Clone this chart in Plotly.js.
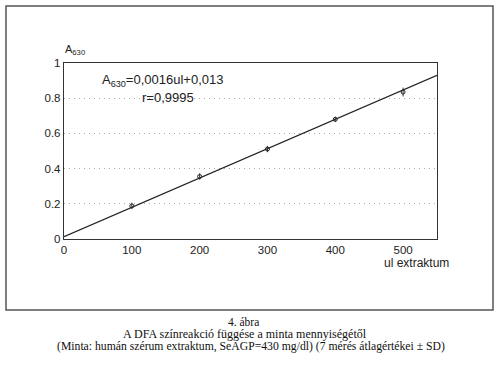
<!DOCTYPE html>
<html><head><meta charset="utf-8">
<script src="https://cdn.plot.ly/plotly-3.0.1.min.js"></script>
<style>html,body{margin:0;padding:0;background:#fff;}#c{width:500px;height:369px;}</style>
</head><body><div id="c"></div>
<script>
const volumes = [100, 200, 300, 400, 500];
const absorbance = [0.188, 0.355, 0.511, 0.68, 0.835];
const sd = [0.018, 0.018, 0.018, 0.015, 0.025];
const fitX = [0, 550];
const fitY = [0.013, 0.93];
const xTicks = [0, 100, 200, 300, 400, 500];
const yTicks = [0, 0.2, 0.4, 0.6, 0.8, 1];
const yTickText = ['0', '0.2', '0.4', '0.6', '0.8', '1'];

const W = 373, H = 176; // plot area px
function px(x){return (x-64)/W;}
function py(y){return (239-y)/H;}
const serif = 'Liberation Serif, Times New Roman, serif';

const traces = [
  {x: fitX, y: fitY, mode: 'lines', line: {color: '#222', width: 1.2}, hoverinfo: 'skip'},
  {x: volumes, y: absorbance, mode: 'markers',
   marker: {symbol: 'circle-open', size: 4, color: '#222', line: {width: 1}},
   error_y: {type: 'data', array: sd, visible: true, color: '#333', thickness: 1, width: 0}}
];

const layout = {
  width: 500, height: 369,
  margin: {l: 64, r: 63, t: 63, b: 130},
  paper_bgcolor: '#fff', plot_bgcolor: '#fff',
  showlegend: false,
  font: {family: 'Liberation Sans, Arial, sans-serif', size: 11, color: '#222'},
  xaxis: {range: [0, 550], tickvals: xTicks, ticktext: xTicks.map(String), showgrid: false, zeroline: false,
    showline: true, linecolor: '#333', linewidth: 1.2, mirror: true, ticks: '', ticklen: 0,
    tickfont: {size: 11.5}},
  yaxis: {range: [0, 1], tickvals: yTicks, ticktext: yTickText, showgrid: true, gridcolor: '#aaa', griddash: '1px,4px', gridwidth: 1.2,
    zeroline: false, showline: true, linecolor: '#333', linewidth: 1.2, mirror: true, ticks: '',
    tickfont: {size: 11.5}},
  shapes: [
    {type: 'rect', xref: 'paper', yref: 'paper', x0: px(6), x1: px(493), y0: py(310), y1: py(6),
     line: {color: '#555', width: 1.5}, fillcolor: 'rgba(0,0,0,0)', layer: 'below'}
  ],
  annotations: [
    {xref: 'paper', yref: 'paper', x: px(63), y: py(50), text: 'A<sub>630</sub>', showarrow: false, xanchor: 'left', yanchor: 'middle', font: {size: 11}},
    {xref: 'paper', yref: 'paper', x: px(162), y: py(80), text: 'A<sub>630</sub>=0,0016ul+0,013', showarrow: false, xanchor: 'center', yanchor: 'middle', font: {size: 13}},
    {xref: 'paper', yref: 'paper', x: px(168), y: py(97), text: 'r=0,9995', showarrow: false, xanchor: 'center', yanchor: 'middle', font: {size: 13}},
    {xref: 'paper', yref: 'paper', x: px(416), y: py(263), text: 'ul extraktum', showarrow: false, xanchor: 'center', yanchor: 'middle', font: {size: 12}},
    {xref: 'paper', yref: 'paper', x: px(243), y: py(322), text: '4. ábra', showarrow: false, xanchor: 'center', yanchor: 'middle', font: {size: 11.5, family: serif, color: '#111'}, borderpad: 0},
    {xref: 'paper', yref: 'paper', x: px(245), y: py(334), text: 'A DFA színreakció függése a minta mennyiségétől', showarrow: false, xanchor: 'center', yanchor: 'middle', font: {size: 12, family: serif, color: '#111'}, borderpad: 0},
    {xref: 'paper', yref: 'paper', x: px(251), y: py(346), text: '(Minta: humán szérum extraktum, SeAGP=430 mg/dl) (7 mérés átlagértékei ± SD)', showarrow: false, xanchor: 'center', yanchor: 'middle', font: {size: 11.7, family: serif, color: '#111'}, borderpad: 0}
  ]
};
Plotly.newPlot('c', traces, layout, {staticPlot: true, displayModeBar: false});
</script></body></html>
